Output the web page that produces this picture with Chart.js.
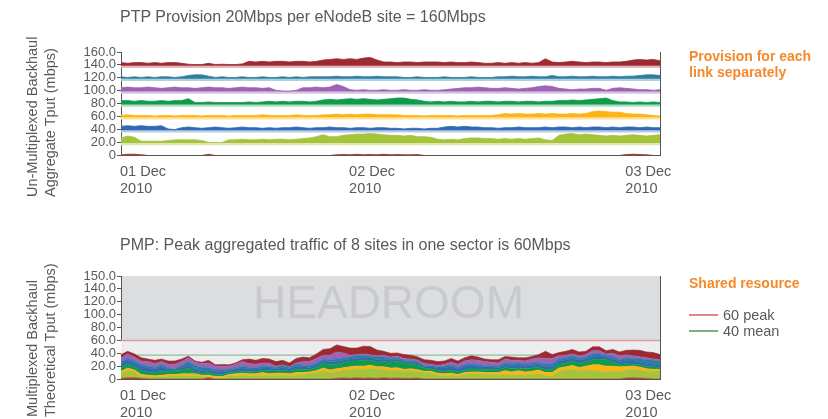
<!DOCTYPE html>
<html><head><meta charset="utf-8">
<script src="https://cdn.jsdelivr.net/npm/chart.js@4/dist/chart.umd.min.js"></script>
<style>
html,body{margin:0;padding:0;background:#fff;}
#wrap{position:relative;width:828px;height:419px;overflow:hidden;font-family:"Liberation Sans",Arial,sans-serif;color:#58595b;}
canvas{position:absolute;left:0;}
.t{position:absolute;white-space:nowrap;}
.title{font-size:16px;line-height:20px;left:120px;}
.ytitle{font-size:14.5px;line-height:18px;transform:rotate(-90deg);transform-origin:0 0;left:23px;}
.note{color:#f58a2c;font-weight:bold;font-size:14px;left:689px;line-height:16px;}
.leg{font-size:14.5px;left:723px;line-height:16px;}
.legline{position:absolute;left:689px;width:29px;height:2px;}
</style></head>
<body>
<div id="wrap">
  <canvas id="c1" width="828" height="210" style="top:0"></canvas>
  <canvas id="c2" width="828" height="195" style="top:224px"></canvas>
  <div class="t title" style="top:7px">PTP Provision 20Mbps per eNodeB site = 160Mbps</div>
  <div class="t title" style="top:235px">PMP: Peak aggregated traffic of 8 sites in one sector is 60Mbps</div>
  <div class="t ytitle" style="top:197px">Un-Multiplexed Backhaul<br>Aggregate Tput (mbps)</div>
  <div class="t ytitle" style="top:417px">Multiplexed Backhaul<br>Theoretical Tput (mbps)</div>
  <div class="t note" style="top:48px">Provision for each<br>link separately</div>
  <div class="t note" style="top:275px">Shared resource</div>
  <div class="legline" style="top:314px;background:#e58587"></div>
  <div class="legline" style="top:330px;background:#7fae84"></div>
  <div class="t leg" style="top:307px">60 peak</div>
  <div class="t leg" style="top:323px">40 mean</div>
</div>
<script>
// traffic per eNodeB site (Mbps), one sample per time step across 01–03 Dec 2010
const site0 = [1,2,2,1, 0,0,0,0,0,0,0,0,0, 2, 0,0,0,0,0,0,0,0,0,0,0,0,0,0,0,0,0,0,
  1,1.5,1,2,1,1.5,1,2,1,1.5,1,1,1.5, 0,0,0,0,0,0,0,0,0,0,0,0,0,0,0,0,0,0,0,0,0,0,0,0,0,0,0,0,0,0,
  1.5,2,1.5,1, 0,0];
const site1 = [8,11,9, 3,3,3,3, 4,5,5,5,5,4, 1,1,1, 5,5,6,5,5,6,5,6,6,5,6,7,8, 10,13,10,
  10,12,13,14,14,15,14,13,12, 12,11,12,10,10,9, 6,5,6,5, 7,8,8,7,7,6, 7,6,7,6,7,8, 5,4,
  12,14,15,13,14,13,12, 11,12,11,12,13,12,11,12,13];
const site2 = [6,7,6,7,6,6,7, 2,1, 4,5,4,3,4,5,4,3,4,5,4,4,
  3,4,3,4,4,5,4,3,4,4,5,4,4,3,4,4,3,4,4,3, 3,2,3,3,2,3,3, 5,6,5,6,5,5,
  4,4,3,4,4,5,4,4,4, 5,4,5,5,4,5,4,5,5,4,5,4,5,5,4,5,4,4];
const site3 = [3,4,3,3,3,2,3,3,2,3,3,3,2,3,3,3,2,3,3,3,3,4,3,3,3,3,4,3,3,3,
  4,4,5,4,5,4,5,5,4,4,4,4, 3,3,3,2,3,3,3,3,2,3,3,3,3,3,4, 6,5,6,5,5,6,5,6,
  5,5,6,5,6, 9,10,9,8,8, 6,5,5,4,3,2];
const site4 = [6,6,5,6,5,5,6,5,6,6, 9, 3,3,4,3,3,3,3,3,4,3, 4,5,4,5,4,5,5,4,5,
  7,8,7,8,9,8,9,8,7,8,9,10, 10,8,7, 5,4,5,4,5,4,4,5,4,5,5,4,5,5,4,5,5,4,5,5,
  6,6,7,6,7,8,9,10, 6,4,4,3,4,3,4,3];
const site5 = [6,7,6,6,7,6,5,6,7,6,6,5,6,7,6,6,5,6,7,6,6,5,6, 2,1,1,2, 6,6,7,6,7, 11,8,
  3,2,3,2,2,3,2,2,3,2,2,3,2,2, 3,4,5,6, 6,7,6,5, 5,6,5,4,5,6, 8,9,8,5, 4,3,4,4,
  5,5,2, 5,6,5,4, 3,3,2,3];
const site6 = [3,2,3,2,3,2,3,3,2,3, 5,6,6,4, 2,3,2,2,3,2,2,3,2,2,3,2,3,2,3,3,
  3,3,4,3,3,4,3,3,4,3,3,3, 2,2,3,2,2,2,3,2,2,2,3,2,2,2,3,
  3,4,3,3,4,3,3,5,3,3,4,3,3,4,3,3,4,3,4,4, 5,6,6,5];
const site7 = [5,4,5,5,4,5,4,5,5,4, 2.5,2,2,4, 2,2.5,2,2,3, 7,6,7,6,7,7,6,7,7,6,7,
  9,10,11,10,11,10,12,13,9, 6,6,5,6,6,5,6,6, 6,5,6,5,5,6,5, 4,4,5,4,5,4,5,4,5, 11,
  6,5,6,7,6,5,6,6,5,6,6,7, 9,10,9,10,8];

const siteSeries = [site0, site1, site2, site3, site4, site5, site6, site7];
const siteOffsets = [0, 18.5, 38.5, 58.5, 78.5, 98.5, 118.5, 138.5];
const siteColors = ['#c23b2c', '#a6c43b', '#3069b4', '#fdb516', '#109a4d', '#9d63b5', '#2b7fa0', '#9d2a31'];
const siteLight  = ['#f0c8c0', '#dce8b0', '#b8cde8', '#fde1a0', '#b0dcc0', '#d8c4e2', '#b2d0dc', '#e0b9bb'];
const stackOrder = [0, 1, 3, 4, 2, 6, 5, 7];
const topTickLabels = ['0','20.0','40.0','60.0','80.0','100.0','120.0','140.0','160.0'];
const bottomTickLabels = ['0','20.0','40.0','60.0','80.0','100.0','120.0','140.0','150.0'];
const xTickLabels = [['01 Dec','2010'], ['02 Dec','2010'], ['03 Dec','2010']];
const xTickAt = [0, 34, 75];
const peakLevel = 60;
const meanLevel = 37;
const sampleIndex = site0.map((_, i) => i);

const FONT = '"Liberation Sans", Arial, sans-serif';
const TXT = '#58595b';
const AXIS = '#555555';

const frame = {
  id: 'frame',
  beforeDraw(chart, args, o) {
    if (o.bg) {
      const a = chart.chartArea, ctx = chart.ctx;
      ctx.save(); ctx.fillStyle = o.bg;
      ctx.fillRect(a.left, a.top, a.right - a.left, a.bottom - a.top);
      ctx.restore();
    }
  },
  beforeDatasetsDraw(chart, args, o) {
    if (o.watermark) {
      const a = chart.chartArea, ctx = chart.ctx;
      ctx.save();
      ctx.font = '46px ' + FONT; ctx.fillStyle = '#c9cacc';
      ctx.textAlign = 'center'; ctx.textBaseline = 'alphabetic';
      ctx.fillText(o.watermark, (a.left + a.right) / 2 - 2, chart.scales.y.getPixelForValue(95));
      ctx.restore();
    }
  },
  afterDraw(chart) {
    const a = chart.chartArea, ctx = chart.ctx, xs = chart.scales.x;
    ctx.save();
    ctx.strokeStyle = AXIS; ctx.lineWidth = 1;
    ctx.beginPath();
    ctx.moveTo(Math.round(a.right) + 0.5, a.top); ctx.lineTo(Math.round(a.right) + 0.5, a.bottom);
    ctx.stroke();
    ctx.font = '14.5px ' + FONT; ctx.fillStyle = TXT;
    ctx.textAlign = 'left'; ctx.textBaseline = 'middle';
    xTickLabels.forEach((lines, i) => {
      const px = xs.getPixelForValue(xTickAt[i]) - 1;
      lines.forEach((s, j) => ctx.fillText(s, px, a.bottom + 17 + 17 * j));
    });
    ctx.restore();
  }
};

function scalesFor(tickLabels, xHeight) {
  return {
    x: {
      type: 'category',
      grid: { display: false },
      border: { display: true, color: AXIS, width: 1 },
      ticks: { display: false },
      afterFit(s) { s.height = xHeight; }
    },
    y: {
      min: 0, max: 160,
      stacked: true,
      ticks: { stepSize: 20, padding: 1, autoSkip: false, color: TXT, font: { family: FONT, size: 13, lineHeight: 1 },
               callback: (v, i) => tickLabels[i] },
      grid: { display: true, drawOnChartArea: false, drawTicks: true, tickLength: 4, color: AXIS },
      border: { display: true, color: AXIS, width: 1 },
      afterFit(s) { s.width = 121; }
    }
  };
}

const baseOptions = (tickLabels, xHeight, frameOpts) => ({
  responsive: false, maintainAspectRatio: false, animation: false, devicePixelRatio: 1,
  layout: { padding: { left: 0, right: 168, top: 52, bottom: 0 } },
  elements: { line: { tension: 0 }, point: { radius: 0 } },
  plugins: { legend: { display: false }, tooltip: { enabled: false }, frame: frameOpts },
  scales: scalesFor(tickLabels, xHeight)
});

// top chart: each site drawn separately on its own offset
const topDatasets = [];
siteSeries.forEach((s, k) => {
  const base = siteOffsets[k];
  if (k > 0) {
    topDatasets.push({ data: s.map(() => base - 1.4), stack: 'strip' + k, borderColor: siteLight[k],
      borderWidth: 2.6, pointRadius: 0, fill: false, order: 5 });
  }
  topDatasets.push({ data: s.map(v => base + v), stack: 'site' + k,
    borderColor: k === 0 ? 'rgba(0,0,0,0)' : siteColors[k], backgroundColor: siteColors[k],
    borderWidth: 0.8, pointRadius: 0, fill: { value: base }, order: 1 });
});

new Chart(document.getElementById('c1'), {
  type: 'line',
  data: { labels: sampleIndex, datasets: topDatasets },
  options: baseOptions(topTickLabels, 55, {}),
  plugins: [frame]
});

// bottom chart: same sites stacked on one shared link
const bottomDatasets = [
  { data: sampleIndex.map(() => peakLevel), stack: 'peak', borderColor: '#e59a9c', borderWidth: 1.5,
    backgroundColor: '#ebedee', fill: 'origin', pointRadius: 0, order: 9 },
  { data: sampleIndex.map(() => meanLevel), stack: 'mean', borderColor: '#8cbf9a', borderWidth: 1.2,
    fill: false, pointRadius: 0, order: 8 }
];
stackOrder.forEach((k, j) => {
  bottomDatasets.push({ data: siteSeries[k], stack: 'traffic', backgroundColor: siteColors[k],
    borderColor: siteColors[k], borderWidth: 0.6, fill: j === 0 ? 'origin' : '-1', pointRadius: 0, order: 1 });
});

new Chart(document.getElementById('c2'), {
  type: 'line',
  data: { labels: sampleIndex, datasets: bottomDatasets },
  options: baseOptions(bottomTickLabels, 40, { bg: '#dcdddf', watermark: 'HEADROOM' }),
  plugins: [frame]
});
</script>
</body></html>
